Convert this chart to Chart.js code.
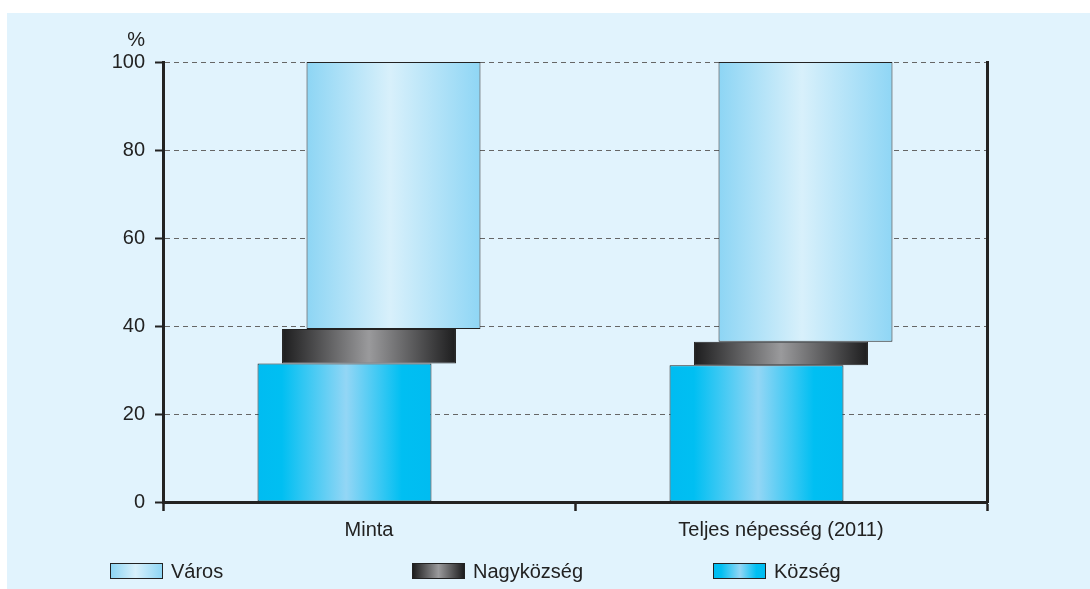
<!DOCTYPE html>
<html>
<head>
<meta charset="utf-8">
<script src="https://cdn.jsdelivr.net/npm/chart.js@4"></script>
<style>
  html, body { margin: 0; padding: 0; background: #fff; }
  #wrap { position: relative; width: 1090px; height: 589px; overflow: hidden; }
  #panel { position: absolute; left: 7px; top: 13px; right: 0; bottom: 0; background: #e1f3fd; }
  #chart { position: absolute; left: 0; top: 0; }
  .item { position: absolute; top: 563px; height: 16px; display: flex; align-items: center;
          font: 20px "Liberation Sans", Arial, sans-serif; color: #222; white-space: nowrap; }
  .item .box { width: 51px; height: 14px; border: 1px solid #222; margin-right: 8px; }
</style>
</head>
<body>
<div id="wrap">
  <div id="panel"></div>
  <canvas id="chart" width="1090" height="589"></canvas>
</div>
<script>
const categories = ['Minta', 'Teljes népesség (2011)'];
const seriesNames = ['Község', 'Nagyközség', 'Város'];
// share of each settlement type, percent, bottom to top
const kozseg = [31.5, 31.1];
const nagykozseg = [7.8, 5.3];
const varos = [60.7, 63.6];
const yTicks = [0, 20, 40, 60, 80, 100];

const INK = '#222';
const FONT = '"Liberation Sans", Arial, sans-serif';
const CAT_PCT = 0.1784;
const BAR_PCT = 7.1;

// horizontal shading of each series: [offset, colour]
const shades = [
  [[0, '#00bcf1'], [0.14, '#00bff2'], [0.51, '#93d6f5'], [0.83, '#00bff2'], [1, '#00bcf1']],
  [[0, '#1d1d1e'], [0.5, '#9a9a9c'], [1, '#1d1d1e']],
  [[0, '#8dd5f4'], [0.48, '#d8f0fb'], [1, '#8fd6f5']]
];

// stack the shares into floating [from, to] ranges
const series = [kozseg, nagykozseg, varos];
const ranges = series.map(() => []);
categories.forEach((c, i) => {
  let base = 0;
  series.forEach((s, k) => {
    ranges[k].push([base, base + s[i]]);
    base += s[i];
  });
});

function barFill(context) {
  const shade = shades[context.datasetIndex];
  const chart = context.chart;
  const x = chart.scales.x;
  if (context.type !== 'data' || !x) return shade[0][1];
  const n = seriesNames.length;
  const chunk = x.width / categories.length * CAT_PCT / n;
  const center = x.getPixelForValue(context.dataIndex) + (context.datasetIndex - (n - 1) / 2) * chunk;
  const half = chunk * BAR_PCT / 2;
  if (!isFinite(center) || !isFinite(half) || half <= 0) return shade[0][1];
  const g = chart.ctx.createLinearGradient(center - half, 0, center + half, 0);
  shade.forEach(([o, c]) => g.addColorStop(o, c));
  return g;
}

const unitLabel = {
  id: 'unitLabel',
  afterDraw(chart) {
    const y = chart.scales.y;
    const ctx = chart.ctx;
    ctx.save();
    ctx.font = '20px ' + FONT;
    ctx.fillStyle = INK;
    ctx.textAlign = 'right';
    ctx.textBaseline = 'middle';
    ctx.fillText('%', y.right - 18, y.top - 22);
    ctx.restore();
  }
};

Chart.defaults.font.family = FONT;
Chart.defaults.font.size = 20;
Chart.defaults.color = INK;

new Chart(document.getElementById('chart'), {
  type: 'bar',
  data: {
    labels: categories,
    datasets: seriesNames.map((name, k) => ({
      label: name,
      data: ranges[k],
      backgroundColor: barFill,
      borderColor: INK,
      borderWidth: 1,
      borderSkipped: false,
      categoryPercentage: CAT_PCT,
      barPercentage: BAR_PCT
    }))
  },
  options: {
    responsive: false,
    animation: false,
    layout: { padding: { top: 62, right: 103, bottom: 0, left: 0 } },
    plugins: { legend: { display: false }, tooltip: { enabled: false } },
    scales: {
      x: {
        offset: true,
        grid: { offset: true, drawOnChartArea: false, tickLength: 9, tickWidth: 2.5, tickColor: INK },
        border: { color: INK, width: 3 },
        ticks: { padding: 7, color: INK },
        afterFit: s => { s.height = 87; }
      },
      y: {
        min: 0,
        max: 100,
        afterBuildTicks: s => { s.ticks = yTicks.map(v => ({ value: v })); },
        grid: { color: '#666', lineWidth: 1, tickColor: INK, tickLength: 8, tickWidth: 2, tickBorderDash: [] },
        border: { color: INK, width: 3, dash: [5, 4] },
        ticks: { padding: 10, color: INK },
        afterFit: s => { s.width = 163; }
      },
      y2: {
        position: 'right',
        min: 0,
        max: 100,
        grid: { display: false },
        ticks: { display: false },
        border: { color: INK, width: 3 },
        afterFit: s => { s.width = 0; }
      }
    }
  },
  plugins: [unitLabel]
});

// legend row, listed top series first
const legendLeft = [110, 412, 713];
seriesNames.slice().reverse().forEach((name, i) => {
  const k = seriesNames.indexOf(name);
  const item = document.createElement('div');
  item.className = 'item';
  item.style.left = legendLeft[i] + 'px';
  const box = document.createElement('span');
  box.className = 'box';
  box.style.background = 'linear-gradient(to right, ' +
    shades[k].map(([o, c]) => c + ' ' + (o * 100) + '%').join(', ') + ')';
  item.appendChild(box);
  item.appendChild(document.createTextNode(name));
  document.getElementById('wrap').appendChild(item);
});
</script>
</body>
</html>
